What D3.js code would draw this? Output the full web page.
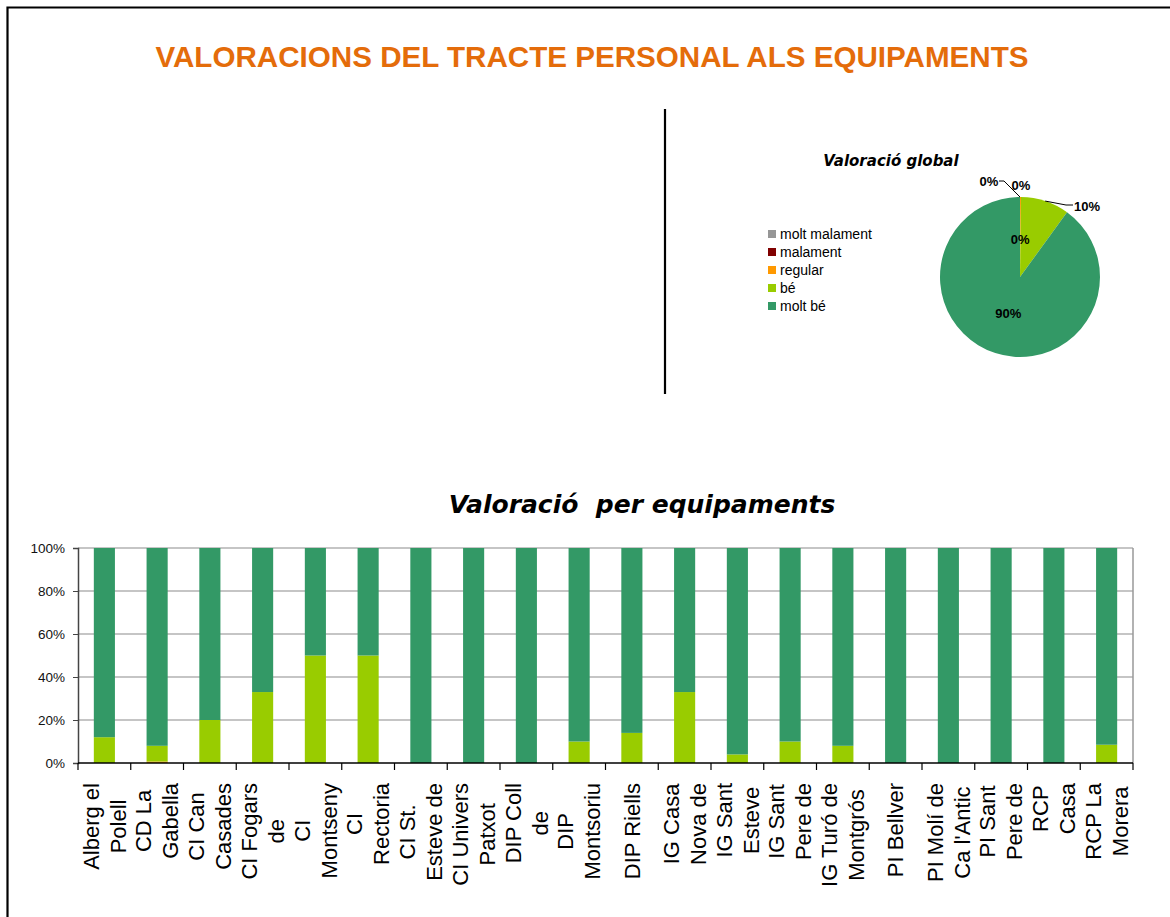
<!DOCTYPE html>
<html>
<head>
<meta charset="utf-8">
<script src="https://cdn.jsdelivr.net/npm/d3@7"></script>
<style>
  body { margin: 0; background: #fff; }
  svg text { font-family: "Liberation Sans", Arial, sans-serif; }
</style>
</head>
<body>
<svg id="chart" width="1170" height="917"></svg>
<script>
// equipaments (line breaks as they wrap on the axis)
const categories = [
  "Alberg el\nPolell", "CD La\nGabella", "CI Can\nCasades", "CI Fogars\nde",
  "CI\nMontseny", "CI\nRectoria", "CI St.\nEsteve de", "CI Univers\nPatxot",
  "DIP Coll\nde", "DIP\nMontsoriu", "DIP Riells", "IG Casa\nNova de",
  "IG Sant\nEsteve", "IG Sant\nPere de", "IG Turó de\nMontgrós", "PI Bellver",
  "PI Molí de\nCa l'Antic", "PI Sant\nPere de", "RCP\nCasa", "RCP La\nMorera"
];

const seriesNames = ["molt malament", "malament", "regular", "bé", "molt bé"];
const seriesColors = ["#969696", "#800000", "#FF9900", "#99CC00", "#339966"];

// percentages per equipament
const moltMalament = [0, 0, 0, 0, 0, 0, 0, 0, 0, 0, 0, 0, 0, 0, 0, 0, 0, 0, 0, 0];
const malament     = [0, 0, 0, 0, 0, 0, 0, 0, 0, 0, 0, 0, 0, 0, 0, 0, 0, 0, 0, 0];
const regular      = [0, 0.7, 0, 0, 0, 0, 0, 0, 0, 0, 0, 0, 0, 0, 0, 0, 0, 0, 0, 0];
const be           = [12, 7.3, 20, 33, 50, 50, 0, 0, 0, 10, 14, 33, 4, 10, 8, 0, 0, 0, 0, 8.5];
const moltBe       = [88, 92, 80, 67, 50, 50, 100, 100, 100, 90, 86, 67, 96, 90, 92, 100, 100, 100, 100, 91.5];

// global rating (pie)
const globalValues = [0, 0, 0.2, 9.8, 90];
const globalLabels = ["0%", "0%", "0%", "10%", "90%"];

const yTicks = [0, 20, 40, 60, 80, 100];

const svg = d3.select("#chart");

// outer frame
svg.append("path")
   .attr("d", "M7.5,917 V7.5 H1170")
   .attr("fill", "none")
   .attr("stroke", "#000")
   .attr("stroke-width", 2.2);

svg.append("text")
   .attr("x", 592).attr("y", 67)
   .attr("text-anchor", "middle")
   .attr("font-size", 29.6).attr("font-weight", "bold")
   .attr("fill", "#E46C0A")
   .text("VALORACIONS DEL TRACTE PERSONAL ALS EQUIPAMENTS");

svg.append("line")
   .attr("x1", 665).attr("x2", 665)
   .attr("y1", 109).attr("y2", 394)
   .attr("stroke", "#000").attr("stroke-width", 2.2);

// ---------- pie ----------
const cx = 1020, cy = 277, R = 80;
const pieG = svg.append("g").attr("transform", `translate(${cx},${cy})`);

svg.append("text")
   .attr("x", 891).attr("y", 166)
   .attr("text-anchor", "middle")
   .style("font-family", "'DejaVu Sans', sans-serif")
   .attr("font-size", 15).attr("font-weight", "bold").attr("font-style", "italic")
   .text("Valoració global");

const pieData = d3.pie().sort(null)(globalValues);
const arc = d3.arc().innerRadius(0).outerRadius(R);
pieG.selectAll("path.slice")
    .data(pieData)
    .enter().append("path")
    .attr("class", "slice")
    .attr("d", arc)
    .attr("fill", (d, i) => seriesColors[i]);

// label placement (relative to pie centre)
const labelPos = [
  { x: -31, y: -96, lead: [[-21, -96], [-16, -96], [0, -R]] },
  { x: 1, y: -92 },
  { inside: true },
  { x: 67, y: -71 },
  { inside: true }
];
const innerArc = d3.arc().innerRadius(38).outerRadius(38);
pieData.forEach((d, i) => {
  const p = labelPos[i];
  let lx, ly;
  if (p.inside) {
    [lx, ly] = innerArc.centroid(d);
  } else {
    lx = p.x; ly = p.y;
  }
  if (i === 3) {
    const mid = (d.startAngle + d.endAngle) / 2;
    const ex = Math.sin(mid) * R, ey = -Math.cos(mid) * R;
    pieG.append("polyline")
        .attr("points", [[ex, ey], [lx - 21, ly - 1], [lx - 14, ly - 1]].join(" "))
        .attr("fill", "none").attr("stroke", "#000").attr("stroke-width", 1);
  }
  if (p.lead) {
    pieG.append("polyline")
        .attr("points", p.lead.join(" "))
        .attr("fill", "none").attr("stroke", "#000").attr("stroke-width", 1);
  }
  pieG.append("text")
      .attr("x", lx).attr("y", ly)
      .attr("dy", "0.35em")
      .attr("text-anchor", "middle")
      .attr("font-size", 13).attr("font-weight", "bold")
      .text(globalLabels[i]);
});

// legend
const legend = svg.append("g").attr("transform", "translate(768,230)");
seriesNames.forEach((name, i) => {
  const g = legend.append("g").attr("transform", `translate(0,${i * 18})`);
  g.append("rect").attr("width", 8).attr("height", 8).attr("fill", seriesColors[i]);
  g.append("text").attr("x", 12).attr("y", 4).attr("dy", "0.35em")
   .attr("font-size", 14).text(name);
});

// ---------- stacked bars ----------
svg.append("text")
   .attr("x", 642).attr("y", 513)
   .attr("text-anchor", "middle")
   .style("font-family", "'DejaVu Sans', sans-serif")
   .attr("font-size", 25).attr("font-weight", "bold").attr("font-style", "italic")
   .attr("xml:space", "preserve")
   .text("Valoració  per equipaments");

const plotLeft = 78, plotRight = 1133, plotTop = 548, plotBottom = 763;
const x = d3.scaleBand().domain(categories).range([plotLeft, plotRight]).padding(0);
const y = d3.scaleLinear().domain([0, 100]).range([plotBottom, plotTop]);

const rows = categories.map((c, i) => ({
  cat: c,
  "molt malament": moltMalament[i],
  "malament": malament[i],
  "regular": regular[i],
  "bé": be[i],
  "molt bé": moltBe[i]
}));
const stacked = d3.stack().keys(seriesNames)(rows);

// gridlines
svg.append("g").selectAll("line")
   .data(yTicks.filter(t => t > 0))
   .enter().append("line")
   .attr("x1", plotLeft).attr("x2", plotRight)
   .attr("y1", d => y(d)).attr("y2", d => y(d))
   .attr("stroke", "#8c8c8c").attr("stroke-width", 1.2);

svg.append("line")
   .attr("x1", plotRight).attr("x2", plotRight)
   .attr("y1", plotTop).attr("y2", plotBottom)
   .attr("stroke", "#999").attr("stroke-width", 1.5);

const barW = x.bandwidth() * 0.4;
stacked.forEach((layer, si) => {
  svg.append("g").attr("fill", seriesColors[si])
     .selectAll("rect")
     .data(layer)
     .enter().append("rect")
     .attr("x", d => x(d.data.cat) + (x.bandwidth() - barW) / 2)
     .attr("width", barW)
     .attr("y", d => y(d[1]))
     .attr("height", d => y(d[0]) - y(d[1]));
});

// y axis
const yAxis = svg.append("g")
   .attr("transform", `translate(${plotLeft},0)`)
   .call(d3.axisLeft(y).tickValues(yTicks).tickSize(5).tickPadding(8).tickFormat(d => d + "%"));
yAxis.select(".domain").attr("stroke", "#444").attr("stroke-width", 1.5);
yAxis.selectAll(".tick line").attr("stroke", "#444");
yAxis.selectAll("text").attr("font-size", 13.5).attr("fill", "#111");

// x axis: ticks at band boundaries
const xAxis = svg.append("g");
xAxis.append("line")
     .attr("x1", plotLeft).attr("x2", plotRight)
     .attr("y1", plotBottom).attr("y2", plotBottom)
     .attr("stroke", "#000").attr("stroke-width", 1.5);
xAxis.selectAll("line.tick")
     .data(categories.concat([null]))
     .enter().append("line")
     .attr("class", "tick")
     .attr("x1", (d, i) => plotLeft + i * x.step()).attr("x2", (d, i) => plotLeft + i * x.step())
     .attr("y1", plotBottom).attr("y2", plotBottom + 7)
     .attr("stroke", "#000").attr("stroke-width", 1.2);

// rotated category labels, lines stacked left to right
const labelTop = 783, lineGap = 27;
categories.forEach(c => {
  const lines = c.split("\n");
  const cxCat = x(c) + x.bandwidth() / 2;
  const texts = lines.map((ln, j) => {
    const lxPos = cxCat + (j - (lines.length - 1) / 2) * lineGap;
    return svg.append("text")
      .attr("font-size", 22)
      .attr("text-anchor", "middle")
      .attr("dy", "0.35em")
      .datum(lxPos)
      .text(ln);
  });
  const maxLen = d3.max(texts, t => t.node().getComputedTextLength());
  texts.forEach(t => {
    const lxPos = t.datum();
    t.attr("transform", `translate(${lxPos},${labelTop + maxLen / 2}) rotate(-90)`);
  });
});
</script>
</body>
</html>
